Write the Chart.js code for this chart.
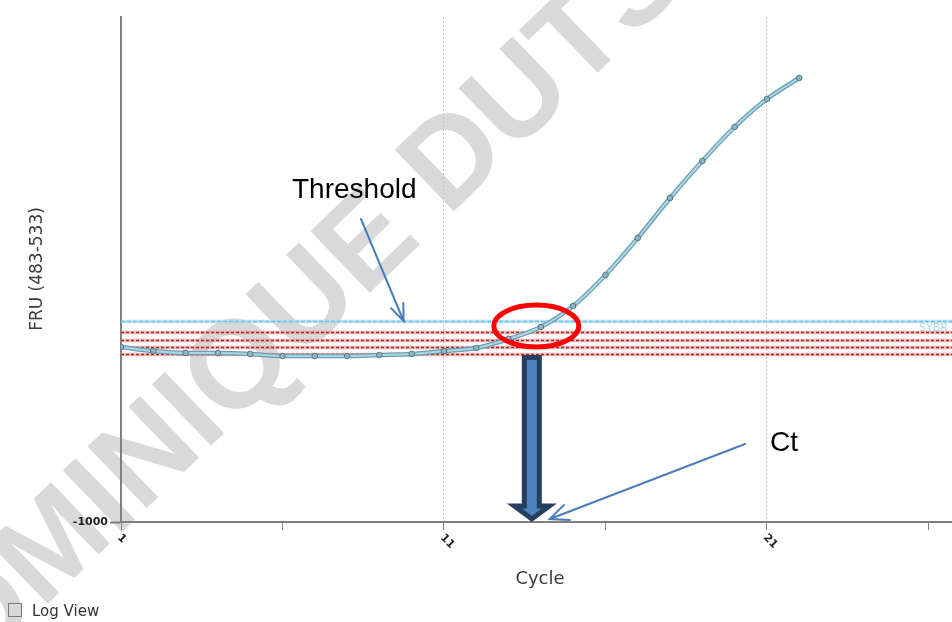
<!DOCTYPE html>
<html>
<head>
<meta charset="utf-8">
<title>Amplification curve</title>
<script src="https://cdn.jsdelivr.net/npm/chart.js@4/dist/chart.umd.min.js"></script>
<style>
  html, body { margin: 0; padding: 0; background: #ffffff; }
  #wrap { width: 952px; height: 622px; position: relative; overflow: hidden; }
  canvas { display: block; }
</style>
</head>
<body>
<div id="wrap"><canvas id="chart" width="952" height="622"></canvas></div>
<script>
// Amplification run: fluorescence per cycle
const cycles = [1, 2, 3, 4, 5, 6, 7, 8, 9, 10, 11, 12, 13, 14, 15, 16, 17, 18, 19, 20, 21, 22];
const fluorescence = [750, 710, 690, 690, 680, 660, 660, 660, 670, 680, 710, 740, 830, 950, 1160, 1470, 1840, 2240, 2610, 2950, 3230, 3440];

// Threshold levels (red = candidate levels, blue = the chosen SYBR threshold)
const candidateThresholds = [900, 825, 750, 680];
const chosenThreshold = 1010;

// Axis ticks
const xTickValues = [1, 6, 11, 16, 21, 26];
const xTickLabels = ['1', '', '11', '', '21', ''];
const yTickValues = [-1000];
const yTickLabels = ['-1000'];

// Cycle where the curve crosses the threshold, and where the threshold arrow lands
const ctCycle = 13.72;
const thresholdArrowCycle = 9.75;

const watermarkText = 'DOMINIQUE DUTSCHER';
const xMin = 1, xMax = 26.73, yMin = -1000, yMax = 4050;

const points = cycles.map((c, i) => ({ x: c, y: fluorescence[i] }));

function arrowHead(ctx, tx, ty, fx, fy, len, spread) {
  const ang = Math.atan2(ty - fy, tx - fx);
  ctx.beginPath();
  ctx.moveTo(tx - len * Math.cos(ang - spread), ty - len * Math.sin(ang - spread));
  ctx.lineTo(tx, ty);
  ctx.lineTo(tx - len * Math.cos(ang + spread), ty - len * Math.sin(ang + spread));
  ctx.stroke();
}

const decorations = {
  id: 'decorations',
  beforeDraw(chart) {
    const ctx = chart.ctx;
    ctx.save();
    ctx.fillStyle = '#ffffff';
    ctx.fillRect(0, 0, chart.width, chart.height);
    // diagonal watermark
    ctx.translate(402, 214);
    ctx.rotate(-44 * Math.PI / 180);
    ctx.font = 'bold 124px "Liberation Sans", Arial, sans-serif';
    ctx.fillStyle = '#d9d9d9';
    ctx.textAlign = 'center';
    ctx.textBaseline = 'middle';
    ctx.fillText(watermarkText, 0, 0);
    ctx.restore();
  },
  beforeDatasetsDraw(chart) {
    const { ctx, chartArea: a, scales: { y } } = chart;
    const band = (v, under, dashColor, dash) => {
      const py = Math.round(y.getPixelForValue(v)) + 0.5;
      ctx.setLineDash([]);
      ctx.lineWidth = 3.5;
      ctx.strokeStyle = under;
      ctx.beginPath(); ctx.moveTo(a.left, py); ctx.lineTo(a.right, py); ctx.stroke();
      ctx.setLineDash(dash);
      ctx.lineWidth = 1.4;
      ctx.strokeStyle = dashColor;
      ctx.beginPath(); ctx.moveTo(a.left, py); ctx.lineTo(a.right, py); ctx.stroke();
    };
    ctx.save();
    band(chosenThreshold, 'rgba(170,222,245,0.75)', '#6fc0e6', [4, 2]);
    candidateThresholds.forEach(v => band(v, 'rgba(238,160,160,0.75)', '#9c3030', [3, 2]));
    ctx.setLineDash([]);
    // series label at the right end of the chosen threshold
    ctx.font = '11px "DejaVu Sans", sans-serif';
    ctx.fillStyle = '#a6dbef';
    ctx.textAlign = 'left';
    ctx.textBaseline = 'top';
    ctx.fillText('SYBR', 919, y.getPixelForValue(chosenThreshold) + 2);
    ctx.restore();
  },
  afterDraw(chart) {
    const { ctx, chartArea: a, scales: { x, y } } = chart;
    ctx.save();

    // rotated x tick labels
    ctx.font = 'bold 11px "DejaVu Sans", sans-serif';
    ctx.fillStyle = '#222222';
    ctx.textAlign = 'left';
    ctx.textBaseline = 'middle';
    xTickValues.forEach((v, i) => {
      if (!xTickLabels[i]) return;
      const px = x.getPixelForValue(v);
      ctx.save();
      ctx.translate(px - 2, a.bottom + 14);
      ctx.rotate(Math.PI / 4);
      ctx.fillText(xTickLabels[i], 0, 0);
      ctx.restore();
    });

    // axis titles
    ctx.fillStyle = '#3a3a3a';
    ctx.font = '17px "DejaVu Sans", sans-serif';
    ctx.textAlign = 'center';
    ctx.textBaseline = 'middle';
    ctx.save();
    ctx.translate(38, 269);
    ctx.rotate(-Math.PI / 2);
    ctx.fillText('FRU (483-533)', 0, 0);
    ctx.restore();
    ctx.font = '18px "DejaVu Sans", sans-serif';
    ctx.fillText('Cycle', 540, 579);

    // Log View checkbox
    ctx.strokeStyle = '#7a7a7a';
    ctx.lineWidth = 1;
    ctx.strokeRect(8.5, 603.5, 13, 13);
    ctx.fillStyle = '#333333';
    ctx.font = '15px "DejaVu Sans", sans-serif';
    ctx.textAlign = 'left';
    ctx.fillText('Log View', 32, 612);

    // Ct arrow from the threshold crossing down to the cycle axis
    const cx = x.getPixelForValue(ctCycle);
    const lowest = y.getPixelForValue(Math.min(...candidateThresholds));
    const top = lowest + 3.5, bot = a.bottom - 3;
    ctx.beginPath();
    ctx.moveTo(cx - 7.5, top);
    ctx.lineTo(cx + 7.5, top);
    ctx.lineTo(cx + 7.5, bot - 13);
    ctx.lineTo(cx + 17.5, bot - 13);
    ctx.lineTo(cx, bot);
    ctx.lineTo(cx - 17.5, bot - 13);
    ctx.lineTo(cx - 7.5, bot - 13);
    ctx.closePath();
    ctx.fillStyle = '#4f81bd';
    ctx.fill();
    ctx.lineJoin = 'miter';
    ctx.lineWidth = 5;
    ctx.strokeStyle = '#243f60';
    ctx.stroke();

    // red ring around the crossing
    const ey = y.getPixelForValue(chosenThreshold) + 5;
    ctx.beginPath();
    ctx.ellipse(cx + 4.5, ey, 42.5, 21, 0, 0, Math.PI * 2);
    ctx.lineWidth = 5;
    ctx.strokeStyle = '#ff0000';
    ctx.stroke();

    // callout texts and thin arrows
    ctx.fillStyle = '#000000';
    ctx.font = '28px "Liberation Sans", Arial, sans-serif';
    ctx.textAlign = 'left';
    ctx.textBaseline = 'alphabetic';
    ctx.fillText('Threshold', 292, 198);
    ctx.fillText('Ct', 770, 451);

    ctx.strokeStyle = '#4a7ebb';
    ctx.lineWidth = 2;
    ctx.lineCap = 'round';
    const tx = x.getPixelForValue(thresholdArrowCycle), ty = y.getPixelForValue(chosenThreshold);
    ctx.beginPath(); ctx.moveTo(361, 219); ctx.lineTo(tx, ty); ctx.stroke();
    arrowHead(ctx, tx, ty, 361, 219, 18, 0.38);

    const ax = cx + 18, ay = a.bottom - 3;
    ctx.beginPath(); ctx.moveTo(745, 444); ctx.lineTo(ax, ay); ctx.stroke();
    arrowHead(ctx, ax, ay, 745, 444, 20, 0.42);

    ctx.restore();
  }
};

new Chart(document.getElementById('chart'), {
  type: 'line',
  data: {
    datasets: [
      {
        data: points,
        order: 1,
        borderColor: '#a9d7e6',
        borderWidth: 2,
        cubicInterpolationMode: 'monotone',
        pointRadius: 2.8,
        pointBackgroundColor: '#8fb4c2',
        pointBorderColor: '#4f7a8a',
        pointBorderWidth: 1
      },
      {
        data: points,
        order: 2,
        borderColor: '#6e9db1',
        borderWidth: 4.5,
        cubicInterpolationMode: 'monotone',
        pointRadius: 0
      }
    ]
  },
  options: {
    responsive: false,
    animation: false,
    devicePixelRatio: 1,
    layout: { autoPadding: false, padding: { top: 17, left: 0, right: 0, bottom: 0 } },
    plugins: { legend: { display: false }, tooltip: { enabled: false } },
    scales: {
      x: {
        type: 'linear',
        min: xMin,
        max: xMax,
        afterBuildTicks: s => { s.ticks = xTickValues.map(v => ({ value: v })); },
        afterFit: s => { s.height = 100; },
        ticks: { display: false },
        grid: {
          color: c => (c.tick && (c.tick.value - 1) % 10 === 0) ? '#c4c4c4' : 'rgba(0,0,0,0)',
          lineWidth: 1,
          tickColor: '#808080',
          tickLength: 8,
          tickWidth: 1
        },
        border: { display: true, color: '#808080', width: 2, dash: [2, 2] }
      },
      y: {
        type: 'linear',
        min: yMin,
        max: yMax,
        afterBuildTicks: s => { s.ticks = yTickValues.map(v => ({ value: v })); },
        afterFit: s => { s.width = 121; },
        ticks: {
          color: '#222222',
          padding: 2,
          font: { family: 'DejaVu Sans', size: 11, weight: 'bold' },
          callback: (v) => yTickLabels[yTickValues.indexOf(v)] ?? ''
        },
        grid: { drawOnChartArea: false, tickLength: 11, tickColor: '#808080', tickWidth: 2 },
        border: { display: true, color: '#808080', width: 2 }
      }
    }
  },
  plugins: [decorations]
});
</script>
</body>
</html>
